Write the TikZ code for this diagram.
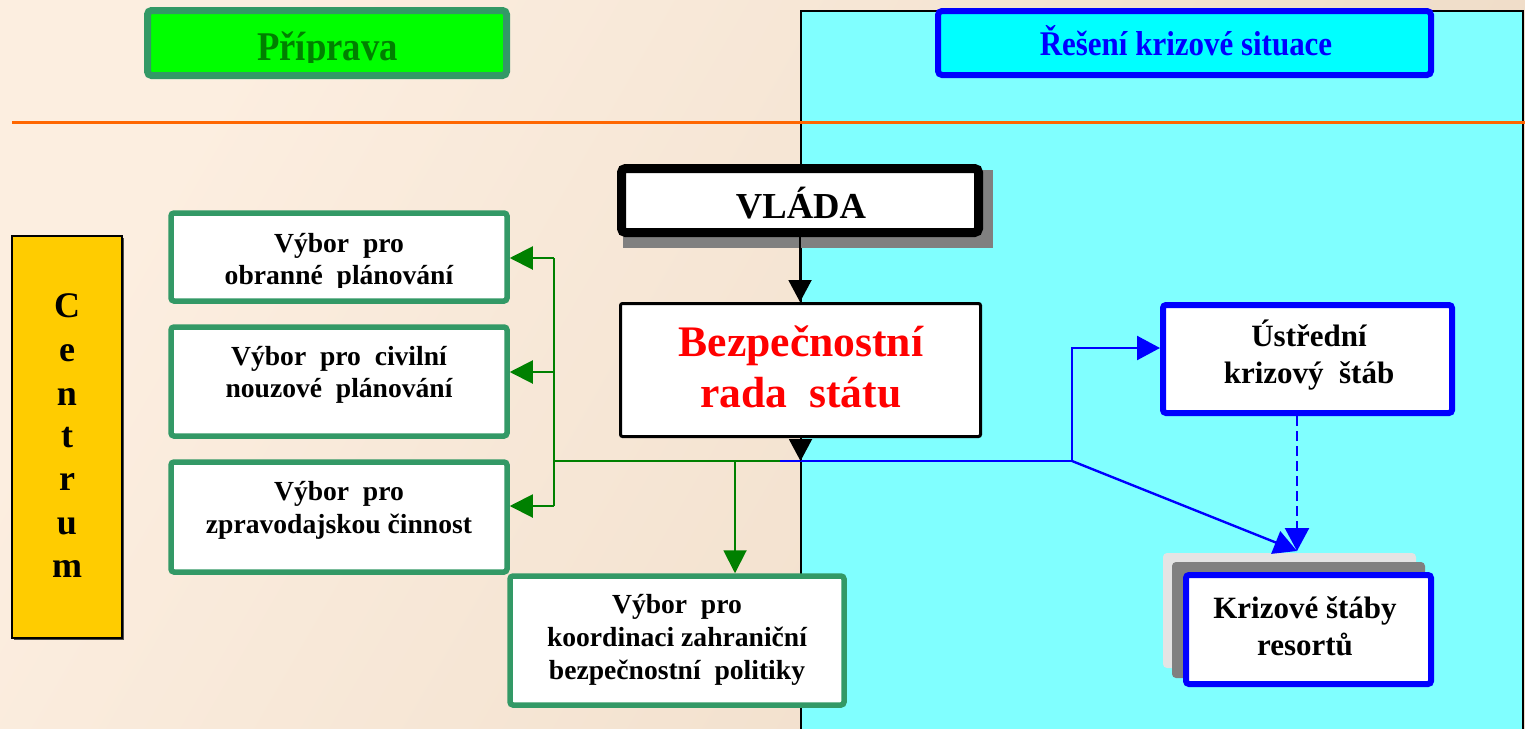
\documentclass[tikz,border=0pt]{standalone}
\usepackage{fontspec}
\setmainfont{Liberation Serif}
\usetikzlibrary{arrows.meta}
\definecolor{sgreen}{HTML}{339966}
\definecolor{lgreen}{HTML}{008000}
\definecolor{lime}{HTML}{00FF00}
\definecolor{cyanp}{HTML}{80FFFF}
\definecolor{cyanb}{HTML}{00FFFF}
\definecolor{blueb}{HTML}{0000FF}
\definecolor{gold}{HTML}{FFCC00}
\definecolor{orangel}{HTML}{FF6600}
\definecolor{shgray}{HTML}{808080}
\definecolor{ltgray}{HTML}{E4E4E4}
\definecolor{bgA}{HTML}{FCEEE0}
\definecolor{bgB}{HTML}{EEDBC6}
\definecolor{redt}{HTML}{FF0000}
\begin{document}
\begin{tikzpicture}[x=0.5pt,y=-0.5pt,
  box/.style={rectangle,inner sep=0pt,fill=white},
  gbox/.style={box,draw=sgreen,line width=2.75pt,rounded corners=1.5pt},
  bbox/.style={box,draw=blueb,line width=3pt,rounded corners=1.5pt},
  txt/.style={inner sep=0pt,align=center,font=\bfseries\fontsize{13.8}{16.2}\selectfont},
  btxt/.style={inner sep=0pt,align=center,font=\bfseries\fontsize{15.5}{18.6}\selectfont},
  gl/.style={draw=lgreen,line width=1pt},
  garr/.style={gl,-{Triangle[length=11.5pt,width=11.5pt]}},
  bl/.style={draw=blueb,line width=1.2pt},
  barr/.style={bl,-{Triangle[length=11.5pt,width=12pt]}},
  blkarr/.style={draw=black,line width=1pt,-{Triangle[length=11pt,width=11.5pt]}}
]
\useasboundingbox (0,0) rectangle (1525,728);
\clip (0,0) rectangle (1525,728);
% background
\shade[left color=bgA,right color=bgB,shading angle=60] (0,0) rectangle (1525,728);
% cyan panel
\draw[fill=cyanp,line width=1pt] (801,11) rectangle (1523,760);
% orange line
\draw[orangel,line width=1.2pt] (12,122.5) -- (1525,122.5);

% header boxes
\node[box,fill=lime,draw=sgreen,line width=3.5pt,rounded corners=2pt,minimum width=179.5pt,minimum height=32.5pt] (prip) at (327,43) {};
\begin{scope}
\clip (150,14) rectangle (504,62);
\node[anchor=base,inner sep=0pt,text=lgreen,font=\bfseries\fontsize{20.4}{22}\selectfont] (priptxt) at (327.5,61) {\scalebox{0.9}[1]{Příprava}};
\end{scope}
\node[box,fill=cyanb,draw=blueb,line width=3pt,rounded corners=2pt,minimum width=246.5pt,minimum height=32pt] (resen) at (1184.5,43) {};
\node[anchor=base,inner sep=0pt,text=blueb,font=\bfseries\fontsize{17.3}{19}\selectfont] (resentxt) at (1186,55) {\scalebox{0.895}[1]{Řešení krizové situace}};

% Centrum
\fill[shgray!60!black] (14,238) rectangle (124,640);
\node[box,fill=gold,draw=black,line width=0.8pt,minimum width=55pt,minimum height=201pt] (centrum) at (67,437) {};
\foreach \l/\yy [count=\i] in {C/317,e/361,n/405,t/447,r/490,u/534,m/577}
  \node[anchor=base,inner sep=0pt,font=\bfseries\fontsize{18}{20}\selectfont] (c\i) at (67,\yy) {\l};

% VLADA
\fill[shgray] (623,170) rectangle (993,248);
\node[box,draw=black,line width=4.5pt,rounded corners=2pt,minimum width=178.5pt,minimum height=32pt] (vlada) at (800,200.5) {};
\node[anchor=base,inner sep=0pt,font=\bfseries\fontsize{18.3}{20}\selectfont] (vladatxt) at (801,218) {VLÁDA};

% Bezpecnostni rada statu
\node[box,draw=black,line width=1.5pt,rounded corners=1pt,minimum width=180pt,minimum height=66.5pt] (bsr) at (800.5,370) {};
\node[inner sep=0pt,align=center,text=redt,font=\bfseries\fontsize{21.8}{25.5}\selectfont] (bsrtxt) at (801,367) {Bezpečnostní\\rada\ \ státu};

% green committee boxes
\node[gbox,minimum width=168pt,minimum height=44pt] (v1) at (339,257) {};
\begin{scope}
\clip (174,216) rectangle (504,287);
\node[txt] (t1) at (339,262) {Výbor\ \ pro\\obranné\ \ plánování};
\end{scope}
\node[gbox,minimum width=168pt,minimum height=54.5pt] (v2) at (339,381.5) {};
\node[txt] (t2) at (339,375) {Výbor\ \ pro\ \ civilní\\nouzové\ \ plánování};
\node[gbox,minimum width=168pt,minimum height=55pt] (v3) at (339,517) {};
\node[txt] (t3) at (339,510.5) {Výbor\ \ pro\\zpravodajskou činnost};
\node[gbox,minimum width=167pt,minimum height=64.5pt] (koord) at (677,640.5) {};
\node[txt,font=\bfseries\fontsize{13.8}{16.5}\selectfont] (tk) at (677,639.5) {Výbor\ \ pro\\koordinaci zahraniční\\bezpečnostní\ \ politiky};

% right boxes
\node[bbox,minimum width=144.5pt,minimum height=54pt] (ust) at (1307.5,359) {};
\node[btxt] (ustxt) at (1309,355) {Ústřední\\krizový\ \ štáb};
\fill[ltgray,rounded corners=2pt] (1163,553) rectangle (1416,668);
\fill[shgray,rounded corners=2pt] (1172,562) rectangle (1425,678);
\node[bbox,minimum width=122.5pt,minimum height=54.5pt] (ks) at (1308.5,629.5) {};
\node[btxt] (kstxt) at (1305,626) {Krizové štáby\\resortů};

% connector coordinates
\coordinate (gsplit) at (780,461);
\coordinate (gv) at (554,461);
\coordinate (b1) at (554,258);
\coordinate (b2) at (554,372);
\coordinate (b3) at (554,506);
\coordinate (kj) at (735,461);
\coordinate (bj) at (1072,461);
\coordinate (u1) at (1072,348);
\coordinate (kstip) at (1297,551);

% black arrows
\draw[blkarr] (vlada.south) -- (vlada.south |- bsr.north);
% green connectors
\draw[gl] (gsplit) -- (gv);
\draw[gl] (b1) -- (b3);
\draw[garr] (b1) -- (b1 -| v1.east);
\draw[garr] (b2) -- (b2 -| v2.east);
\draw[garr] (b3) -- (b3 -| v3.east);
\draw[garr] (kj) -- (kj |- koord.north);
% blue connectors
\draw[bl] (gsplit) -- (bj);
\draw[barr] (bj) -- (u1) -- (u1 -| ust.west);
\draw[barr] (bj) -- (kstip);
\draw[barr,dash pattern=on 5pt off 2.5pt] (kstip |- ust.south) -- (kstip);
\draw[blkarr] (bsr.south) -- (bsr.south |- gsplit);
\end{tikzpicture}
\end{document}
